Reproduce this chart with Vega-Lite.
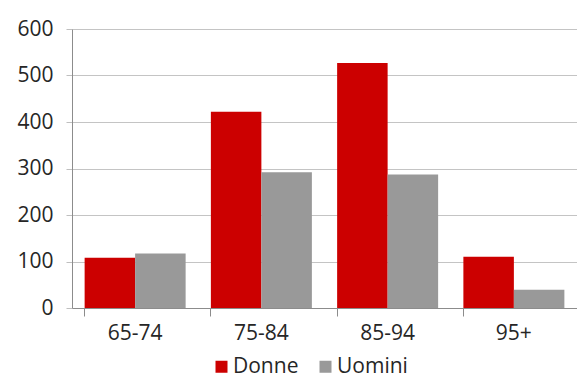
{
  "$schema": "https://vega.github.io/schema/vega-lite/v6.json",
  "width": 505,
  "height": 279,
  "autosize": {"type": "none"},
  "padding": {"left": 72, "top": 29, "right": 0, "bottom": 72},
  "background": "#ffffff",
  "config": {
    "font": "Open Sans",
    "view": {"stroke": null},
    "axis": {"labelColor": "#262626", "labelFont": "Open Sans"},
    "legend": {"labelFont": "Open Sans", "labelColor": "#262626"}
  },
  "data": {
    "values": [
      {"eta": "65-74", "sesso": "Donne", "valore": 108},
      {"eta": "65-74", "sesso": "Uomini", "valore": 117},
      {"eta": "75-84", "sesso": "Donne", "valore": 422},
      {"eta": "75-84", "sesso": "Uomini", "valore": 292},
      {"eta": "85-94", "sesso": "Donne", "valore": 527},
      {"eta": "85-94", "sesso": "Uomini", "valore": 287},
      {"eta": "95+", "sesso": "Donne", "valore": 110},
      {"eta": "95+", "sesso": "Uomini", "valore": 39}
    ]
  },
  "mark": {"type": "bar"},
  "encoding": {
    "x": {
      "field": "eta",
      "type": "nominal",
      "sort": ["65-74", "75-84", "85-94", "95+"],
      "scale": {"paddingInner": 0.2, "paddingOuter": 0.1},
      "axis": {
        "title": null,
        "labelAngle": 0,
        "bandPosition": 0,
        "tickSize": 8,
        "tickColor": "#8c8c8c",
        "domainColor": "#8c8c8c",
        "labelFontSize": 21,
        "labelPadding": 6,
        "grid": false
      }
    },
    "xOffset": {"field": "sesso", "sort": ["Donne", "Uomini"]},
    "y": {
      "field": "valore",
      "type": "quantitative",
      "scale": {"domain": [0, 600]},
      "axis": {
        "title": null,
        "values": [0, 100, 200, 300, 400, 500, 600],
        "tickSize": 6,
        "tickColor": "#bfbfbf",
        "domainColor": "#8c8c8c",
        "gridColor": "#c4c4c4",
        "labelFontSize": 21,
        "labelPadding": 13
      }
    },
    "color": {
      "field": "sesso",
      "type": "nominal",
      "scale": {"domain": ["Donne", "Uomini"], "range": ["#cc0000", "#999999"]},
      "legend": {
        "title": null,
        "orient": "none",
        "direction": "horizontal",
        "legendX": 139,
        "legendY": 327,
        "padding": 0,
        "symbolType": "square",
        "symbolSize": 144,
        "symbolStrokeWidth": 0,
        "labelFontSize": 21,
        "labelOffset": 1,
        "columnPadding": 16
      }
    }
  }
}
